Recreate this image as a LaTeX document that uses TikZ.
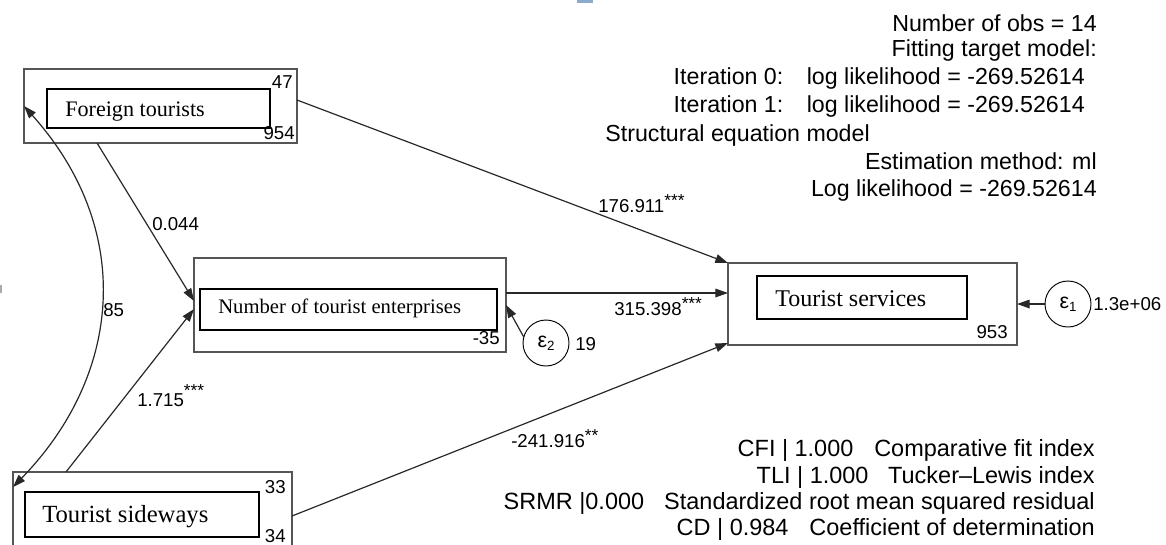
\documentclass[tikz,border=0pt]{standalone}
\usepackage{fontspec}
\setmainfont{Liberation Serif}
\newfontfamily\arl{Liberation Sans}
\usetikzlibrary{arrows.meta}
\definecolor{boxgray}{RGB}{85,85,85}
\definecolor{linegray}{RGB}{40,40,40}
\definecolor{markblue}{RGB}{140,170,205}
\definecolor{markgray}{RGB}{170,170,170}
\newcommand{\stars}[1]{\raisebox{4.5pt}{\fontsize{13}{13}\selectfont #1}}
\begin{document}
\begin{tikzpicture}[x=0.75pt,y=-0.75pt,
  outerbox/.style={draw=boxgray, line width=1.3pt, inner sep=0pt, outer sep=0pt, rectangle},
  innerbox/.style={draw=black, line width=0.9pt, inner sep=0pt, outer sep=0pt, rectangle},
  errc/.style={draw=black, line width=0.7pt, circle, minimum size=34.5pt, inner sep=0pt, outer sep=0pt, font=\arl\fontsize{16}{18}\selectfont},
  conn/.style={draw=linegray, line width=0.9pt, -{Triangle[length=9.5pt,width=6.5pt]}},
  num/.style={font=\arl\fontsize{14}{16}\selectfont, inner sep=0pt},
  info/.style={font=\arl\fontsize{17.4}{20}\selectfont, inner sep=0pt, anchor=base east},
  fitst/.style={font=\arl\fontsize{17.6}{20}\selectfont, inner sep=0pt, anchor=base east},
  boxtext/.style={inner sep=0pt, anchor=base west}
]
\useasboundingbox (0,0) rectangle (1166,544);
% artifacts
\fill[markblue] (577,0) rectangle (593,3);
\fill[markgray] (0,285) rectangle (2,293);

% Foreign tourists
\node[outerbox, minimum width=204.75pt, minimum height=55.5pt] (ftO) at (160.5,106) {};
\node[innerbox, minimum width=167.25pt, minimum height=29.25pt] (ft) at (158.5,108.5) {};
\node[boxtext, font=\fontsize{16.6}{18}\selectfont] (ftt) at (65,116) {Foreign tourists};
\node[num, anchor=base east] (ft47) at (293,88) {47};
\node[num, anchor=base east] (ft954) at (295,139) {954};

% Number of tourist enterprises
\node[outerbox, minimum width=234pt, minimum height=70.5pt] (neO) at (350,305) {};
\node[innerbox, minimum width=222.75pt, minimum height=30.75pt] (ne) at (348.5,309.5) {};
\node[boxtext, font=\fontsize{15.5}{17}\selectfont] (net) at (218,313) {Number of tourist enterprises};
\node[num, anchor=base east] (ne35) at (500,344) {-35};

% Tourist services
\node[outerbox, minimum width=216.75pt, minimum height=61.5pt] (tsO) at (872.5,304) {};
\node[innerbox, minimum width=157.5pt, minimum height=32.25pt] (ts) at (862,297.5) {};
\node[boxtext, font=\fontsize{18}{20}\selectfont] (tst) at (775,306) {Tourist services};
\node[num, anchor=base east] (ts953) at (1008,338) {953};

% Tourist sideways
\node[outerbox, minimum width=209.25pt, minimum height=63pt] (swO) at (152.5,514) {};
\node[innerbox, minimum width=175.5pt, minimum height=33.75pt] (sw) at (142,514.5) {};
\node[boxtext, font=\fontsize{18.5}{20}\selectfont] (swt) at (42,522) {Tourist sideways};
\node[num, anchor=base east] (sw33) at (286,493) {33};
\node[num, anchor=base east] (sw34) at (286,542) {34};

% error terms
\node[errc] (e1) at (1068,304) {ε\raisebox{-0.3ex}{\fontsize{10}{10}\selectfont 1}};
\node[num, anchor=base west] (e1v) at (1093,310) {1.3e+06};
\node[errc] (e2) at (546,343) {ε\raisebox{-0.3ex}{\fontsize{10}{10}\selectfont 2}};
\node[num, anchor=base west] (e2v) at (575,350) {19};

% paths
\draw[conn] ([yshift=4.5pt]ftO.east) -- (tsO.north west);
\draw[conn] ([xshift=-47.6pt]ftO.south) -- ([yshift=3pt]neO.west);
\draw[conn] ([xshift=-64.9pt]swO.north) -- ([yshift=-3pt]neO.west);
\coordinate (n1) at ([yshift=9pt]neO.east);
\draw[conn] (n1) -- (n1 -| tsO.west);
\draw[conn] ([yshift=-1.5pt]swO.east) -- ([yshift=1.5pt]tsO.south west);
\draw[conn] (e1) -- (tsO.east);
\draw[conn] (e2.165) -- (neO.east);
\draw[draw=linegray, line width=0.9pt, {Triangle[length=9.5pt,width=6.5pt]}-{Triangle[length=9.5pt,width=6.5pt]}]
  (ftO.west) .. controls (135,230) and (122,375) .. ([yshift=20.25pt]swO.west);

% path labels
\node[num, anchor=base west] (l1) at (598,212) {176.911\stars{***}};
\node[num, anchor=base west] (l2) at (152,230) {0.044};
\node[num, anchor=base west] (l3) at (103,316) {85};
\node[num, anchor=base west] (l4) at (137,406) {1.715\raisebox{3pt}{\stars{***}}};
\node[num, anchor=base west] (l5) at (614,315) {315.398\stars{***}};
\node[num, anchor=base west] (l6) at (511,447) {-241.916\stars{**}};

% info text
\node[info] (i1) at (1097,31) {Number of obs = 14};
\node[info] (i2) at (1097,56) {Fitting target model:};
\node[info] (i3) at (1085,84) {\makebox[308.25pt][s]{Iteration 0:\hfill log likelihood = -269.52614}};
\node[info] (i4) at (1085,112) {\makebox[308.25pt][s]{Iteration 1:\hfill log likelihood = -269.52614}};
\node[info] (i5) at (870,141) {Structural equation model};
\node[info] (i6) at (1097,169) {Estimation method: ml};
\node[info] (i7) at (1097,196) {Log likelihood = -269.52614};

% fit statistics
\node[fitst] (f1) at (1095,456) {\makebox[267.75pt][s]{CFI | 1.000\hfill Comparative fit index}};
\node[fitst] (f2) at (1095,483) {\makebox[253.5pt][s]{TLI | 1.000\hfill Tucker–Lewis index}};
\node[fitst] (f3) at (1095,509) {\makebox[443.25pt][s]{SRMR |0.000\hfill Standardized root mean squared residual}};
\node[fitst] (f4) at (1095,535) {\makebox[313.5pt][s]{CD | 0.984\hfill Coefficient of determination}};
\end{tikzpicture}
\end{document}
